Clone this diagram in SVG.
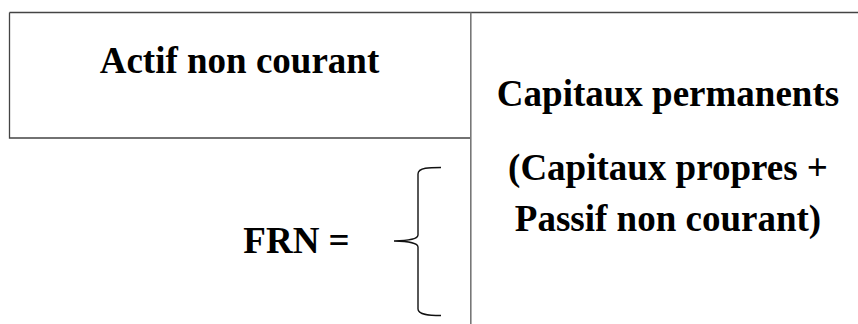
<svg xmlns="http://www.w3.org/2000/svg" width="858" height="324" viewBox="0 0 858 324">
<style>
.t{font-family:'Times New Roman',Times,'Liberation Serif',serif;font-weight:bold;font-size:37px;fill:#000;text-anchor:middle}
.ln{stroke:#444;stroke-width:1.3;fill:none}
.vl{stroke:#777;stroke-width:1.6;fill:none}
.br{stroke:#111;stroke-width:1.4;fill:none}
</style>
<rect width="858" height="324" fill="#fff"/>
<g id="connectors">
<path class="ln" d="M9.5,12.5 H858 M9.5,12.5 V138 H470.5"/>
<path class="vl" d="M470.8,12.5 V324"/>
</g>
<g id="actif"><text class="t" x="239.5" y="73">Actif non courant</text></g>
<g id="capitaux">
<text class="t" x="668" y="106">Capitaux permanents</text>
<text class="t" x="668" y="180">(Capitaux propres +</text>
<text class="t" x="668" y="231">Passif non courant)</text>
</g>
<g id="frn"><text class="t" x="296.5" y="253">FRN =</text></g>
<g id="brace"><path class="br" d="M441,167.5 C430,167.5 418,167.5 418,174 L418,235 C418,239 410,240.5 394,241 C410,241.5 418,243 418,247 L418,309 C418,315 430,315.5 441,315.5"/></g>
</svg>
